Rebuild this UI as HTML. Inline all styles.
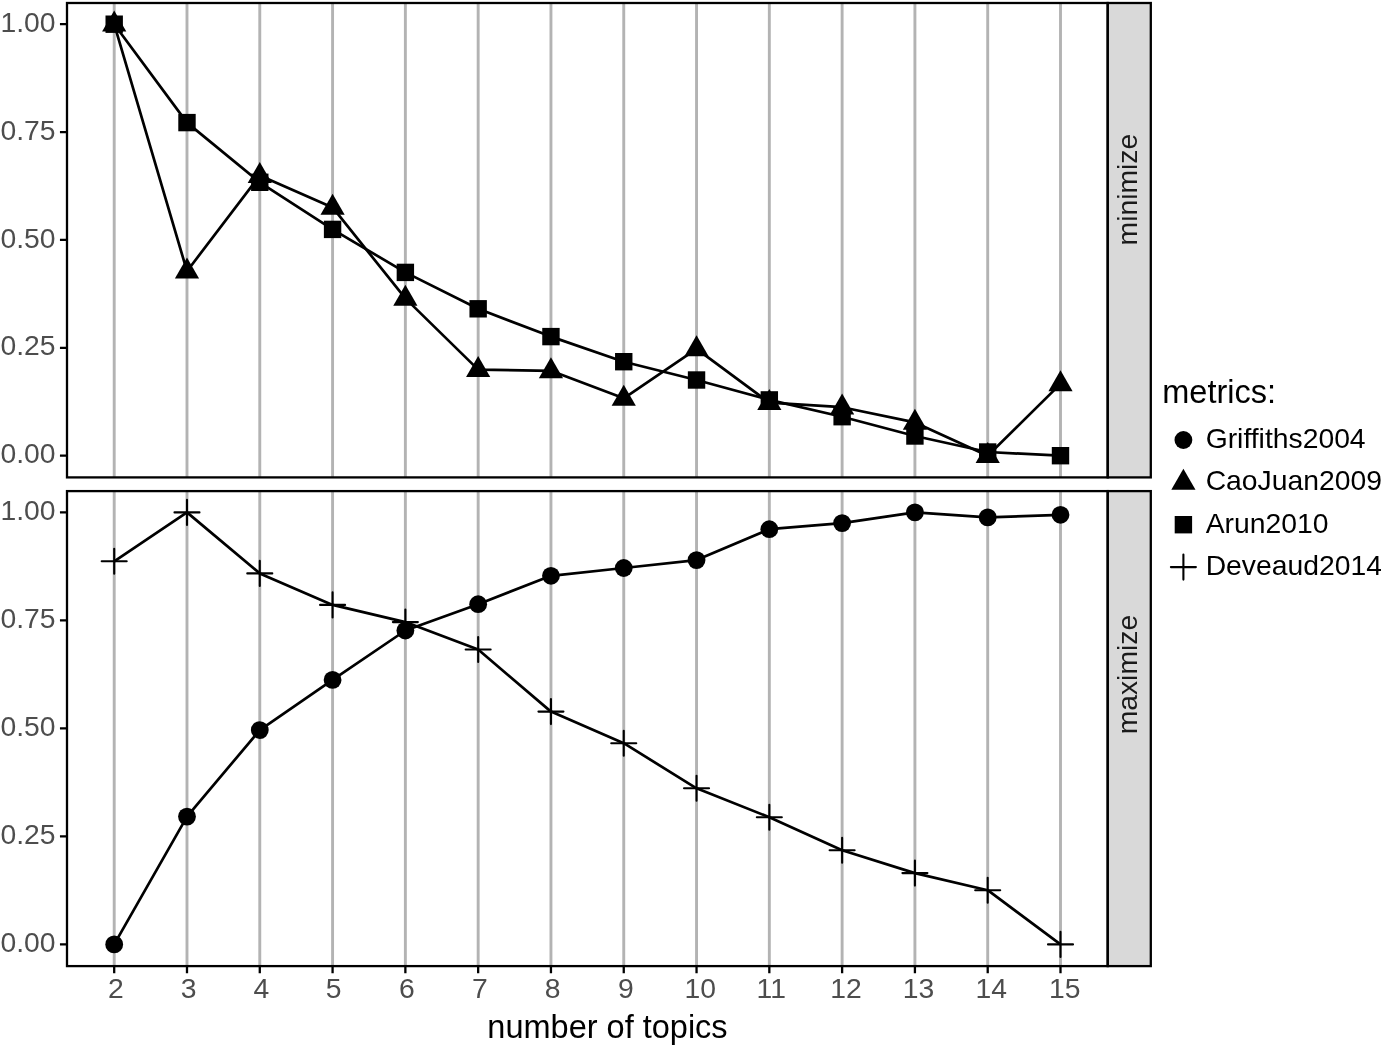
<!DOCTYPE html><html><head><meta charset="utf-8"><style>html,body{margin:0;padding:0;background:#fff;}svg{display:block;will-change:transform;}text{font-family:"Liberation Sans",sans-serif;}</style></head><body>
<svg width="1381" height="1045" viewBox="0 0 1381 1045">
<rect width="1381" height="1045" fill="#fff"/>
<rect x="1107.7" y="3" width="43.1" height="474.4" fill="#d9d9d9" stroke="#000" stroke-width="2.3"/>
<path d="M114.2 3V477.4M186.99 3V477.4M259.78 3V477.4M332.58 3V477.4M405.37 3V477.4M478.16 3V477.4M550.95 3V477.4M623.75 3V477.4M696.54 3V477.4M769.33 3V477.4M842.12 3V477.4M914.92 3V477.4M987.71 3V477.4M1060.5 3V477.4" stroke="#b3b3b3" stroke-width="2.9"/>
<rect x="1107.7" y="491.1" width="43.1" height="475" fill="#d9d9d9" stroke="#000" stroke-width="2.3"/>
<path d="M114.2 491.1V966.1M186.99 491.1V966.1M259.78 491.1V966.1M332.58 491.1V966.1M405.37 491.1V966.1M478.16 491.1V966.1M550.95 491.1V966.1M623.75 491.1V966.1M696.54 491.1V966.1M769.33 491.1V966.1M842.12 491.1V966.1M914.92 491.1V966.1M987.71 491.1V966.1M1060.5 491.1V966.1" stroke="#b3b3b3" stroke-width="2.9"/>
<polyline points="114.2,24.2 186.99,271.2 259.78,175.5 332.58,207.4 405.37,298.4 478.16,369.6 550.95,370.8 623.75,398.3 696.54,348.8 769.33,402.7 842.12,407.2 914.92,422.4 987.71,455.7 1060.5,383.9" fill="none" stroke="#000" stroke-width="2.7" stroke-linejoin="round" stroke-linecap="butt"/>
<polyline points="114.2,24.2 186.99,122.6 259.78,182.3 332.58,229.4 405.37,272.4 478.16,308.8 550.95,336.6 623.75,361.7 696.54,380 769.33,399.9 842.12,416.7 914.92,436 987.71,452 1060.5,455.7" fill="none" stroke="#000" stroke-width="2.7" stroke-linejoin="round" stroke-linecap="butt"/>
<g fill="#000"><path d="M114.2 10.6L126.3 31.6L102.1 31.6Z"/><path d="M186.99 257.6L199.09 278.6L174.89 278.6Z"/><path d="M259.78 161.9L271.88 182.9L247.68 182.9Z"/><path d="M332.58 193.8L344.68 214.8L320.48 214.8Z"/><path d="M405.37 284.8L417.47 305.8L393.27 305.8Z"/><path d="M478.16 356L490.26 377L466.06 377Z"/><path d="M550.95 357.2L563.05 378.2L538.85 378.2Z"/><path d="M623.75 384.7L635.85 405.7L611.65 405.7Z"/><path d="M696.54 335.2L708.64 356.2L684.44 356.2Z"/><path d="M769.33 389.1L781.43 410.1L757.23 410.1Z"/><path d="M842.12 393.6L854.22 414.6L830.02 414.6Z"/><path d="M914.92 408.8L927.02 429.8L902.82 429.8Z"/><path d="M987.71 442.1L999.81 463.1L975.61 463.1Z"/><path d="M1060.5 370.3L1072.6 391.3L1048.4 391.3Z"/></g>
<g fill="#000"><rect x="105.5" y="15.5" width="17.4" height="17.4"/><rect x="178.29" y="113.9" width="17.4" height="17.4"/><rect x="251.08" y="173.6" width="17.4" height="17.4"/><rect x="323.88" y="220.7" width="17.4" height="17.4"/><rect x="396.67" y="263.7" width="17.4" height="17.4"/><rect x="469.46" y="300.1" width="17.4" height="17.4"/><rect x="542.25" y="327.9" width="17.4" height="17.4"/><rect x="615.05" y="353" width="17.4" height="17.4"/><rect x="687.84" y="371.3" width="17.4" height="17.4"/><rect x="760.63" y="391.2" width="17.4" height="17.4"/><rect x="833.42" y="408" width="17.4" height="17.4"/><rect x="906.22" y="427.3" width="17.4" height="17.4"/><rect x="979.01" y="443.3" width="17.4" height="17.4"/><rect x="1051.8" y="447" width="17.4" height="17.4"/></g>
<polyline points="114.2,944.4 186.99,816.6 259.78,730.1 332.58,679.9 405.37,630.5 478.16,604.2 550.95,575.8 623.75,568 696.54,560.1 769.33,529.2 842.12,523.1 914.92,512.4 987.71,517.4 1060.5,514.8" fill="none" stroke="#000" stroke-width="2.7" stroke-linejoin="round" stroke-linecap="butt"/>
<polyline points="114.2,561.3 186.99,512.4 259.78,573.4 332.58,604.9 405.37,622.1 478.16,649.5 550.95,711.6 623.75,743.2 696.54,788.3 769.33,817.2 842.12,850.3 914.92,873.1 987.71,890.2 1060.5,944.4" fill="none" stroke="#000" stroke-width="2.7" stroke-linejoin="round" stroke-linecap="butt"/>
<g fill="#000"><circle cx="114.2" cy="944.4" r="8.9"/><circle cx="186.99" cy="816.6" r="8.9"/><circle cx="259.78" cy="730.1" r="8.9"/><circle cx="332.58" cy="679.9" r="8.9"/><circle cx="405.37" cy="630.5" r="8.9"/><circle cx="478.16" cy="604.2" r="8.9"/><circle cx="550.95" cy="575.8" r="8.9"/><circle cx="623.75" cy="568" r="8.9"/><circle cx="696.54" cy="560.1" r="8.9"/><circle cx="769.33" cy="529.2" r="8.9"/><circle cx="842.12" cy="523.1" r="8.9"/><circle cx="914.92" cy="512.4" r="8.9"/><circle cx="987.71" cy="517.4" r="8.9"/><circle cx="1060.5" cy="514.8" r="8.9"/></g>
<g stroke="#000" stroke-width="2.1" stroke-linecap="round" fill="none"><path d="M101.7 561.3H126.7M114.2 548.8V573.8"/><path d="M174.49 512.4H199.49M186.99 499.9V524.9"/><path d="M247.28 573.4H272.28M259.78 560.9V585.9"/><path d="M320.08 604.9H345.08M332.58 592.4V617.4"/><path d="M392.87 622.1H417.87M405.37 609.6V634.6"/><path d="M465.66 649.5H490.66M478.16 637V662"/><path d="M538.45 711.6H563.45M550.95 699.1V724.1"/><path d="M611.25 743.2H636.25M623.75 730.7V755.7"/><path d="M684.04 788.3H709.04M696.54 775.8V800.8"/><path d="M756.83 817.2H781.83M769.33 804.7V829.7"/><path d="M829.62 850.3H854.62M842.12 837.8V862.8"/><path d="M902.42 873.1H927.42M914.92 860.6V885.6"/><path d="M975.21 890.2H1000.21M987.71 877.7V902.7"/><path d="M1048 944.4H1073M1060.5 931.9V956.9"/></g>
<rect x="67" y="3" width="1040.7" height="474.4" fill="none" stroke="#000" stroke-width="2.3"/>
<rect x="67" y="491.1" width="1040.7" height="475" fill="none" stroke="#000" stroke-width="2.3"/>
<path d="M59.95 455.7H67M59.95 347.82H67M59.95 239.95H67M59.95 132.07H67M59.95 24.2H67M59.95 944.4H67M59.95 836.4H67M59.95 728.4H67M59.95 620.4H67M59.95 512.4H67M114.2 966.1V973.15M186.99 966.1V973.15M259.78 966.1V973.15M332.58 966.1V973.15M405.37 966.1V973.15M478.16 966.1V973.15M550.95 966.1V973.15M623.75 966.1V973.15M696.54 966.1V973.15M769.33 966.1V973.15M842.12 966.1V973.15M914.92 966.1V973.15M987.71 966.1V973.15M1060.5 966.1V973.15" stroke="#000" stroke-width="2.3"/>
<g fill="#4d4d4d" font-size="28.3"><text x="55.5" y="463.3" text-anchor="end">0.00</text><text x="55.5" y="355.43" text-anchor="end">0.25</text><text x="55.5" y="247.55" text-anchor="end">0.50</text><text x="55.5" y="139.67" text-anchor="end">0.75</text><text x="55.5" y="31.8" text-anchor="end">1.00</text><text x="55.5" y="952" text-anchor="end">0.00</text><text x="55.5" y="844" text-anchor="end">0.25</text><text x="55.5" y="736" text-anchor="end">0.50</text><text x="55.5" y="628" text-anchor="end">0.75</text><text x="55.5" y="520" text-anchor="end">1.00</text><text x="115.9" y="997.5" text-anchor="middle">2</text><text x="188.59" y="997.5" text-anchor="middle">3</text><text x="261.38" y="997.5" text-anchor="middle">4</text><text x="333.58" y="997.5" text-anchor="middle">5</text><text x="406.77" y="997.5" text-anchor="middle">6</text><text x="479.86" y="997.5" text-anchor="middle">7</text><text x="552.55" y="997.5" text-anchor="middle">8</text><text x="625.95" y="997.5" text-anchor="middle">9</text><text x="700.14" y="997.5" text-anchor="middle">10</text><text x="771.23" y="997.5" text-anchor="middle">11</text><text x="845.92" y="997.5" text-anchor="middle">12</text><text x="918.42" y="997.5" text-anchor="middle">13</text><text x="991.31" y="997.5" text-anchor="middle">14</text><text x="1064.7" y="997.5" text-anchor="middle">15</text></g>
<text x="607.5" y="1038" text-anchor="middle" font-size="32.5" fill="#000">number of topics</text>
<text transform="translate(1137 189.6) rotate(-90)" text-anchor="middle" font-size="28.3" fill="#1a1a1a">minimize</text>
<text transform="translate(1136.6 674.6) rotate(-90)" text-anchor="middle" font-size="28.3" fill="#1a1a1a">maximize</text>
<text x="1162.3" y="403.2" font-size="32.5" fill="#000">metrics:</text>
<g fill="#000"><circle cx="1183.4" cy="440" r="8.9"/><path d="M1183.4 468.8L1195.5 489.8L1171.3 489.8Z"/><rect x="1174.7" y="516" width="17.4" height="17.4"/></g>
<g stroke="#000" stroke-width="2.1" stroke-linecap="round" fill="none"><path d="M1170.9 567.1H1195.9M1183.4 554.6V579.6"/></g>
<text x="1205.7" y="448" font-size="28.3" fill="#000">Griffiths2004</text>
<text x="1205.7" y="490.4" font-size="28.3" fill="#000">CaoJuan2009</text>
<text x="1205.7" y="532.7" font-size="28.3" fill="#000">Arun2010</text>
<text x="1205.7" y="575.1" font-size="28.3" fill="#000">Deveaud2014</text>
</svg></body></html>
